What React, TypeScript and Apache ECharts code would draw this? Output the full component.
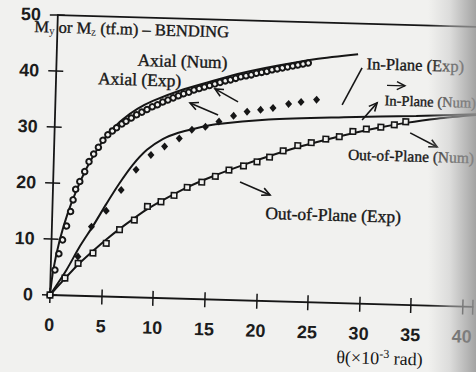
import React, { useEffect, useRef } from "react";
import * as echarts from "echarts";

// x: rotation theta (x10^-3 rad), y: moment (tf.m)
const axialNum: number[][] = [
  [0, 0], [0.25, 4.5], [0.8, 9.9], [1.5, 14.7], [2.3, 18.9], [3.2, 22.8], [4.2, 26.3],
  [5.3, 29.3], [6.5, 31.6], [8.0, 33.7], [9.5, 35.2], [12.0, 37.1], [15.0, 38.9],
  [18.0, 40.6], [21.5, 42.1], [25.0, 43.4], [29.2, 44.5],
];

const axialExp: number[][] = [
  [0, 0], [0.41, 4.5], [0.75, 7.4], [1.07, 9.9], [1.42, 12.4], [1.77, 15.0], [1.98, 17.1],
  [2.2, 19.0], [2.58, 20.4], [3.03, 22.2], [3.42, 24.0], [3.85, 25.4], [4.29, 26.6],
  [4.71, 27.9], [5.17, 28.9], [5.6, 29.6], [6.0, 30.2], [6.5, 30.9], [6.9, 31.4],
  [7.4, 32.0], [7.9, 32.6], [8.4, 33.1], [8.9, 33.6], [9.4, 34.1], [9.9, 34.5],
  [10.4, 35.0], [10.9, 35.4], [11.4, 35.8], [11.9, 36.2], [12.4, 36.6], [12.9, 36.9],
  [13.4, 37.3], [13.9, 37.6], [14.4, 37.9], [14.9, 38.2], [15.4, 38.5], [15.9, 38.8],
  [16.4, 39.1], [16.9, 39.3], [17.4, 39.6], [17.9, 39.9], [18.4, 40.1], [18.9, 40.3],
  [19.4, 40.6], [19.9, 40.8], [20.4, 41.0], [20.9, 41.3], [21.4, 41.5], [21.9, 41.7],
  [22.4, 41.9], [22.9, 42.1], [23.4, 42.3], [23.9, 42.5], [24.4, 42.7],
];

const inPlaneNum: number[][] = [
  [0, 0], [1.54, 4.6], [2.75, 8.8], [4.0, 12.6], [5.2, 16.5], [6.4, 20.2], [7.65, 23.6],
  [9.0, 26.4], [10.5, 28.4], [12.0, 29.6], [13.5, 30.4], [15.6, 31.3], [20.7, 32.4],
  [28.0, 33.2], [35.0, 33.8], [41.0, 34.4],
];

const inPlaneExp: number[][] = [
  [0, 0], [1.4, 3.1], [2.6, 7.0], [3.83, 12.4], [5.22, 15.3], [6.61, 19.1], [8.0, 22.8],
  [9.4, 25.5], [10.7, 27.1], [12.1, 28.6], [13.3, 30.2], [14.6, 30.8], [15.9, 31.8],
  [17.3, 32.9], [18.6, 33.7], [19.9, 34.1], [21.1, 34.5], [22.6, 35.3], [23.8, 35.7],
  [25.3, 36.2],
];

const outPlaneNum: number[][] = [
  [0, 0], [1.4, 3.0], [2.6, 5.5], [4.0, 8.0], [5.3, 10.2], [6.6, 12.2], [8.0, 14.2],
  [9.2, 15.8], [10.5, 17.3], [13.0, 19.9], [15.7, 22.2], [18.4, 24.2], [20.9, 25.9],
  [23.6, 27.6], [26.3, 29.1], [28.9, 30.4], [31.6, 31.6], [34.0, 32.5], [37.0, 33.4],
  [41.0, 34.3],
];

const outPlaneExp: number[][] = [
  [0, 0], [1.4, 3.1], [2.64, 5.8], [4.05, 7.7], [5.31, 9.5], [6.56, 12.0], [7.97, 13.8],
  [9.2, 16.3], [10.5, 17.2], [11.75, 18.4], [13.0, 19.9], [14.4, 20.9], [15.7, 22.0],
  [17.0, 23.2], [18.4, 24.0], [19.7, 24.8], [20.9, 25.7], [22.2, 26.9], [23.6, 27.9],
  [24.9, 28.5], [26.3, 29.2], [27.6, 29.7], [28.9, 30.7], [30.2, 31.2], [31.6, 31.6],
  [32.9, 32.1], [34.0, 32.7],
];

const xMin = 0;
const xMax = 41;
const xStep = 5;
const yMin = 0;
const yMax = 50;
const yStep = 10;

const INK = "#161616";
const PAPER = "#f1f1ef";
const SERIF = "'Liberation Serif', 'DejaVu Serif', serif";
const SANS = "'Liberation Sans', Arial, sans-serif";

function arrow(x1: number, y1: number, x2: number, y2: number, head = true, w = 1.6) {
  const els: any[] = [
    { type: "line", shape: { x1, y1, x2, y2 }, style: { stroke: INK, lineWidth: w }, z: 20 },
  ];
  if (head) {
    const a = Math.atan2(y2 - y1, x2 - x1);
    const L = 9;
    const s = 0.45;
    els.push({
      type: "polyline",
      shape: {
        points: [
          [x2 - L * Math.cos(a - s), y2 - L * Math.sin(a - s)],
          [x2, y2],
          [x2 - L * Math.cos(a + s), y2 - L * Math.sin(a + s)],
        ],
      },
      style: { stroke: INK, lineWidth: w, fill: null },
      z: 20,
    });
  }
  return els;
}

function label(text: string, x: number, y: number, size = 17.5) {
  return {
    type: "text",
    x,
    y,
    z: 20,
    style: {
      text,
      fontFamily: SERIF,
      fontSize: size,
      fill: INK,
      stroke: INK,
      lineWidth: 0.35,
      align: "left",
      verticalAlign: "middle",
    },
  };
}

export default function App() {
  const ref = useRef<HTMLDivElement>(null);

  useEffect(() => {
    if (!ref.current) return;
    const chart = echarts.init(ref.current, null, { renderer: "svg" });

    const axisLine = { show: true, onZero: false, lineStyle: { color: INK, width: 1.8 } };
    const labelStyle = {
      fontFamily: SANS,
      fontWeight: "bold" as const,
      fontSize: 18,
      color: "#1c1c1c",
    };

    const option: any = {
      animation: false,
      backgroundColor: "transparent",
      grid: { left: 50, top: 15, right: 0, bottom: 77, containLabel: false },
      xAxis: [
        {
          type: "value", min: xMin, max: xMax, interval: xStep, position: "bottom",
          axisLine,
          axisTick: { show: true, inside: false, length: 8, lineStyle: { color: INK, width: 1.5 } },
          axisLabel: {
            ...labelStyle, margin: 21,
            formatter: (v: number) => (v % xStep === 0 ? String(v) : ""),
          },
          splitLine: { show: false },
        },
        {
          type: "value", min: xMin, max: xMax, interval: xStep, position: "bottom",
          axisLine: { show: false, onZero: false },
          axisTick: { show: true, inside: true, length: 7, lineStyle: { color: INK, width: 1.5 } },
          axisLabel: { show: false },
          splitLine: { show: false },
        },
        {
          type: "value", min: xMin, max: xMax, position: "top",
          axisLine,
          axisTick: { show: false },
          axisLabel: { show: false },
          splitLine: { show: false },
        },
      ],
      yAxis: [
        {
          type: "value", min: yMin, max: yMax, interval: yStep, position: "left",
          axisLine,
          axisTick: { show: true, inside: false, length: 8, lineStyle: { color: INK, width: 1.5 } },
          axisLabel: { ...labelStyle, margin: 17 },
          splitLine: { show: false },
        },
        {
          type: "value", min: yMin, max: yMax, interval: yStep, position: "left",
          axisLine: { show: false, onZero: false },
          axisTick: { show: true, inside: true, length: 7, lineStyle: { color: INK, width: 1.5 } },
          axisLabel: { show: false },
          splitLine: { show: false },
        },
      ],
      series: [
        {
          name: "Axial (Num)", type: "line", data: axialNum, smooth: 0.3,
          showSymbol: false, lineStyle: { color: INK, width: 2 }, z: 3,
        },
        {
          name: "In-Plane (Num)", type: "line", data: inPlaneNum, smooth: 0.3,
          showSymbol: false, lineStyle: { color: INK, width: 2 }, z: 3,
        },
        {
          name: "Out-of-Plane (Num)", type: "line", data: outPlaneNum, smooth: 0.3,
          showSymbol: false, lineStyle: { color: INK, width: 2 }, z: 3,
        },
        {
          name: "Axial (Exp)", type: "scatter", data: axialExp, symbol: "circle", symbolSize: 5.5,
          itemStyle: { color: PAPER, borderColor: INK, borderWidth: 2, opacity: 1 }, z: 4,
        },
        {
          name: "In-Plane (Exp)", type: "scatter", data: inPlaneExp, symbol: "diamond", symbolSize: [7, 8],
          itemStyle: { color: INK, opacity: 1 }, z: 4,
        },
        {
          name: "Out-of-Plane (Exp)", type: "scatter", data: outPlaneExp, symbol: "rect", symbolSize: 5.5,
          itemStyle: { color: PAPER, borderColor: INK, borderWidth: 1.6, opacity: 1 }, z: 4,
        },
      ],
      graphic: [
        {
          type: "text", x: 27, y: 27, z: 20,
          style: {
            text: "{m|M}{s|y}{m| or M}{s|z}{m| (tf.m) – BENDING}",
            fill: INK, align: "left", verticalAlign: "middle",
            rich: {
              m: { fontFamily: SERIF, fontSize: 16.5, fill: INK, stroke: INK, lineWidth: 0.35 },
              s: { fontFamily: SERIF, fontSize: 11, fill: INK, padding: [7, 0, 0, 0] },
            },
          },
        },
        label("Axial (Num)", 131, 57.5),
        label("Axial (Exp)", 92, 77),
        label("In-Plane (Exp)", 360, 55, 16.5),
        label("In-Plane (Num)", 379, 91, 14.5),
        label("Out-of-Plane (Num)", 344, 146, 15.5),
        label("Out-of-Plane (Exp)", 263, 207),
        {
          type: "text", x: 338, y: 349, z: 20,
          style: {
            text: "{a|θ(×10}{s|-3}{a| rad)}",
            fill: INK, align: "left", verticalAlign: "middle",
            rich: {
              a: { fontFamily: SERIF, fontSize: 18, fill: INK },
              s: { fontFamily: SERIF, fontSize: 12, fill: INK, padding: [0, 0, 9, 0] },
            },
          },
        },
        ...arrow(232.6, 96.7, 209.2, 84.4),
        ...arrow(213, 110.3, 184.6, 99.1),
        ...arrow(355.6, 59.3, 336.7, 96.8, false),
        ...arrow(357.1, 111.3, 371.6, 93.8),
        ...arrow(381, 76, 399, 76, true, 1.4),
        ...arrow(405.5, 122.9, 432.9, 136.2),
        ...arrow(236.8, 176.7, 267.2, 188.8),
      ],
    };

    chart.setOption(option);
    return () => chart.dispose();
  }, []);

  return (
    <div
      style={{
        position: "absolute", left: 0, top: 0, width: 476, height: 372,
        overflow: "hidden", background: PAPER,
      }}
    >
      <div
        ref={ref}
        style={{
          position: "absolute", left: 0, top: 0, width: 476, height: 372,
          transform: "rotate(1.6deg)", transformOrigin: "50px 295px",
        }}
      />
      <div
        style={{
          position: "absolute", left: 428, top: 0, width: 48, height: 372,
          background:
            "linear-gradient(to right, rgba(241,241,239,0) 0%, rgba(200,200,200,0.5) 45%, rgba(150,150,150,0.85) 100%)",
          pointerEvents: "none",
        }}
      />
    </div>
  );
}
